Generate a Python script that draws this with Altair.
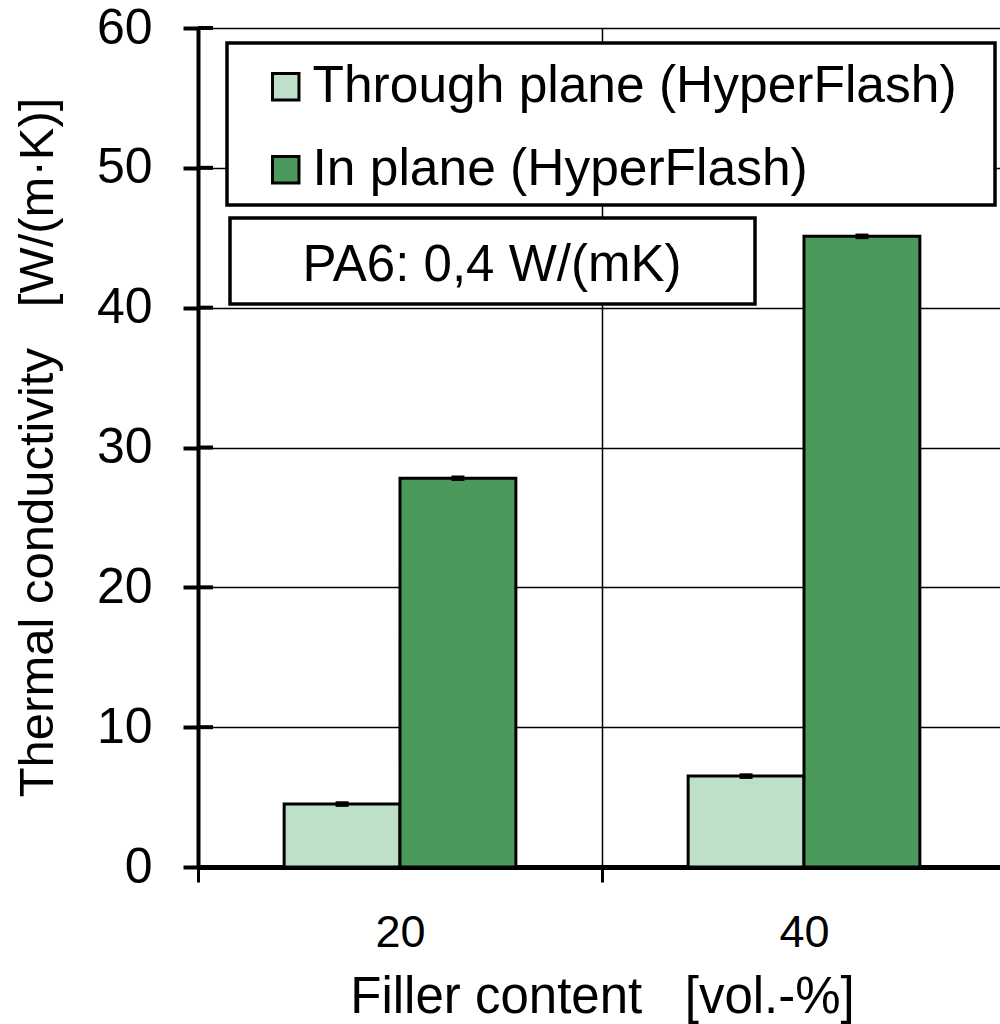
import altair as alt
import pandas as pd

FONT = "Liberation Sans"

filler = ["20", "40"]
series = ["Through plane (HyperFlash)", "In plane (HyperFlash)"]
through_vals = [4.5, 6.5]
inplane_vals = [27.8, 45.1]
through_err = [0.2, 0.2]
inplane_err = [0.2, 0.2]
y_ticks = [0, 10, 20, 30, 40, 50, 60]
colors = ["#BEE0C8", "#4B995B"]
note = ["PA6: 0,4 W/(mK)"]
x_title = "Filler content \u00a0\u00a0[vol.-%]"
y_title = "Thermal conductivity \u00a0\u00a0[W/(m·K)]"

rows = []
for i, f in enumerate(filler):
    rows.append(dict(filler=f, series=series[0], value=through_vals[i], err=through_err[i]))
    rows.append(dict(filler=f, series=series[1], value=inplane_vals[i], err=inplane_err[i]))
df = pd.DataFrame(rows)
df["lo"] = df["value"] - df["err"]
df["hi"] = df["value"] + df["err"]

x_scale = alt.Scale(paddingInner=0, paddingOuter=0, range=[0, 808])
x_axis = alt.Axis(
    title=x_title, labelAngle=0, tickBand="extent",
    tickSize=15, tickWidth=3, tickColor="black",
    domainColor="black", domainWidth=5,
    grid=True, gridColor="black", gridWidth=1.5,
    labelFontSize=45, labelFont=FONT, labelColor="black",
    labelBaseline="alphabetic", labelPadding=64,
    titleFontSize=51, titleFont=FONT, titleFontWeight="normal", titleColor="black",
    titleY=145, titleBaseline="alphabetic",
)
xoff_scale = alt.Scale(domain=series, paddingInner=0, paddingOuter=0.7435)

y_scale = alt.Scale(domain=[0, 60], nice=False)
y_axis = alt.Axis(
    values=y_ticks, format="d",
    title=y_title,
    titleFontSize=49, titleFont=FONT, titleFontWeight="normal", titleColor="black",
    titleX=-146, titleY=419, titleAngle=270, titleBaseline="alphabetic", titleAlign="center",
    labelFontSize=50, labelFont=FONT, labelColor="black", labelPadding=31,
    tickSize=15, tickWidth=4, tickColor="black",
    domainColor="black", domainWidth=4,
    grid=True, gridColor="black", gridWidth=1.5,
)

bars = alt.Chart(df).mark_bar(stroke="black", strokeWidth=3).encode(
    x=alt.X("filler:N", sort=filler, scale=x_scale, axis=x_axis),
    xOffset=alt.XOffset("series:N", sort=series, scale=xoff_scale),
    y=alt.Y("value:Q", scale=y_scale, axis=y_axis),
    color=alt.Color(
        "series:N", sort=series,
        scale=alt.Scale(domain=series, range=colors),
        legend=alt.Legend(
            title=None, orient="none", legendX=29, legendY=17,
            padding=16,
            symbolType="square", symbolSize=700, symbolStrokeColor="black",
            symbolStrokeWidth=3, symbolOpacity=1, symbolOffset=17, labelOffset=1,
            labelFontSize=51.5, labelFont=FONT, labelColor="black", rowPadding=30,
            labelLimit=0,
        ),
    ),
)

errs = alt.Chart(df).mark_bar(color="black", size=13).encode(
    x=alt.X("filler:N", sort=filler, scale=x_scale, axis=x_axis),
    xOffset=alt.XOffset("series:N", sort=series, scale=xoff_scale),
    y=alt.Y("lo:Q", scale=y_scale, axis=y_axis),
    y2="hi:Q",
)

tick_df = pd.DataFrame({"value": y_ticks})
inner_ticks = alt.Chart(tick_df).mark_rule(color="black", strokeWidth=4).encode(
    y=alt.Y("value:Q", scale=y_scale, axis=y_axis),
    x=alt.value(0), x2=alt.value(15),
)

frame_df = pd.DataFrame({"frame": ["legend"]})
legend_box = alt.Chart(frame_df).mark_rect(fill="white", stroke="black", strokeWidth=3.5).encode(
    x=alt.value(29), x2=alt.value(797), y=alt.value(15), y2=alt.value(177),
)

note_df = pd.DataFrame({"note": note})
note_box = alt.Chart(note_df).mark_rect(fill="white", stroke="black", strokeWidth=3.5).encode(
    x=alt.value(32), x2=alt.value(557), y=alt.value(190), y2=alt.value(276),
)
note_text = alt.Chart(note_df).mark_text(
    font=FONT, fontSize=51, color="black", align="center", baseline="alphabetic"
).encode(text="note:N", x=alt.value(294), y=alt.value(253))

chart = alt.layer(bars, errs, inner_ticks, legend_box, note_box, note_text).properties(
    width=802, height=839,
    autosize=alt.AutoSizeParams(type="none"),
    padding={"left": 198, "top": 28, "right": 0, "bottom": 157},
).configure_view(stroke=None)

chart.save("out.html", embed_options={"renderer": "svg", "actions": False})
